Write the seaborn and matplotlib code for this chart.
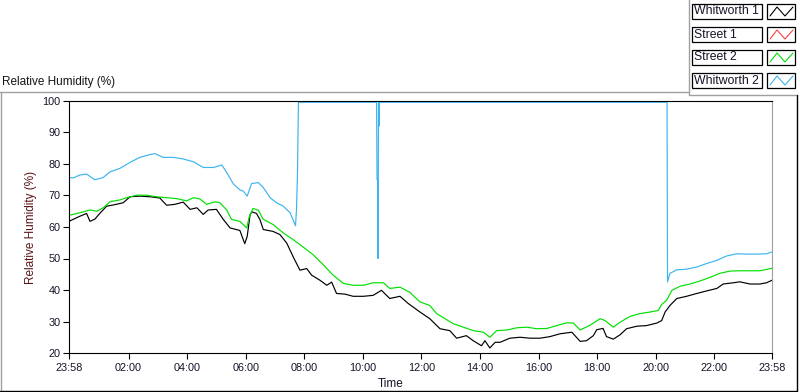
import datetime as dt

import matplotlib.dates as mdates
import matplotlib.pyplot as plt
import pandas as pd
import seaborn as sns
from matplotlib.lines import Line2D
from matplotlib.patches import Rectangle

# ----------------------
# Data (clock time, relative humidity %)
# ----------------------
sensors = ["Whitworth 1", "Street 1", "Street 2", "Whitworth 2"]
colors = ["#000000", "#ff4040", "#00e000", "#3cb4f0"]

w1_times = ["23:58", "00:20", "00:34", "00:41", "00:51", "01:01", "01:15", "01:29",
            "01:49", "02:03", "02:23", "02:44", "03:04", "03:18", "03:35", "03:52",
            "04:06", "04:20", "04:33", "04:43", "05:00", "05:14", "05:28", "05:48",
            "05:58", "06:03", "06:09", "06:13", "06:22", "06:29", "06:36", "06:56",
            "07:10", "07:24", "07:37", "07:51", "08:05", "08:15", "08:32", "08:46",
            "08:56", "09:06", "09:23", "09:40", "10:01", "10:21", "10:38", "10:55",
            "11:16", "11:33", "11:57", "12:17", "12:38", "12:58", "13:12", "13:32",
            "13:46", "14:03", "14:10", "14:20", "14:31", "14:41", "15:01", "15:22",
            "15:42", "16:03", "16:23", "16:44", "17:08", "17:25", "17:38", "17:52",
            "17:59", "18:12", "18:19", "18:33", "18:47", "19:00", "19:21", "19:41",
            "20:02", "20:12", "20:19", "20:29", "20:43", "21:03", "21:24", "21:44",
            "22:05", "22:18", "22:39", "22:52", "23:13", "23:33", "23:47", "23:58"]
w1_rh = [61.8, 63.4, 64.3, 61.8, 62.5, 64.3, 66.6, 67.0,
         67.7, 69.6, 69.8, 69.6, 69.2, 66.9, 67.2, 67.9,
         65.6, 66.1, 64.0, 65.4, 65.6, 62.4, 59.7, 58.9,
         54.7, 57.0, 64.0, 64.8, 64.3, 62.4, 59.2, 58.6,
         57.6, 54.9, 50.6, 46.3, 46.8, 44.7, 43.1, 41.5,
         42.5, 38.9, 38.7, 38.0, 38.0, 38.3, 39.9, 37.3,
         38.0, 35.7, 33.0, 30.9, 27.7, 27.1, 24.7, 25.5,
         23.9, 22.3, 23.9, 21.6, 23.4, 23.4, 24.7, 25.0,
         24.7, 24.7, 25.2, 26.1, 26.6, 23.7, 23.9, 25.5,
         27.4, 27.8, 25.2, 24.4, 25.8, 27.7, 28.5, 28.7,
         29.5, 30.3, 33.0, 35.1, 37.3, 38.0, 38.9, 39.7,
         40.5, 41.9, 42.3, 42.6, 41.9, 41.9, 42.3, 43.1]

# Street 1 has no visible trace on the chart
s1_times = []
s1_rh = []

s2_times = ["23:58", "00:20", "00:41", "00:55", "01:08", "01:22", "01:42", "01:56",
            "02:17", "02:37", "02:58", "03:18", "03:39", "03:59", "04:13", "04:26",
            "04:40", "04:57", "05:07", "05:21", "05:31", "05:48", "06:02", "06:07",
            "06:15", "06:26", "06:36", "06:56", "07:17", "07:37", "07:58", "08:18",
            "08:39", "08:59", "09:20", "09:40", "10:01", "10:21", "10:42", "10:55",
            "11:16", "11:36", "11:57", "12:17", "12:31", "12:45", "13:05", "13:26",
            "13:46", "14:07", "14:20", "14:34", "14:55", "15:15", "15:36", "15:56",
            "16:17", "16:37", "16:58", "17:11", "17:25", "17:45", "18:06", "18:16",
            "18:33", "18:47", "19:07", "19:27", "19:48", "20:05", "20:12", "20:22",
            "20:33", "20:50", "21:10", "21:31", "21:51", "22:11", "22:32", "22:52",
            "23:13", "23:33", "23:58"]
s2_rh = [63.7, 64.5, 65.4, 65.0, 66.1, 68.0, 68.6, 69.3,
         70.1, 70.1, 69.6, 69.3, 69.0, 68.3, 69.3, 68.9,
         67.2, 68.0, 67.7, 65.4, 62.4, 61.8, 59.7, 63.1,
         65.9, 65.3, 62.4, 60.8, 58.1, 56.0, 53.6, 51.2,
         48.0, 44.7, 42.1, 41.5, 41.5, 42.3, 42.3, 40.5,
         40.9, 39.3, 36.2, 35.1, 32.5, 31.2, 29.3, 28.2,
         27.1, 26.6, 25.0, 27.1, 27.3, 28.0, 28.2, 27.7,
         27.8, 28.7, 29.6, 29.5, 27.3, 28.8, 30.9, 30.3,
         28.2, 29.8, 31.6, 32.5, 33.0, 33.5, 35.4, 36.7,
         39.9, 41.2, 41.9, 42.9, 44.0, 45.3, 46.0, 46.1,
         46.1, 46.1, 46.9]

w2_times = ["23:58", "00:07", "00:20", "00:34", "00:51", "01:08", "01:22", "01:42",
            "02:03", "02:23", "02:44", "02:54", "03:11", "03:32", "03:52", "04:13",
            "04:33", "04:54", "05:11", "05:21", "05:35", "05:48", "05:55", "06:03",
            "06:12", "06:26", "06:36", "06:50", "07:03", "07:17", "07:31", "07:42",
            "07:44", "07:46", "07:48", "10:28", "10:29", "10:30", "10:31", "10:32",
            "10:33", "10:34", "20:23", "20:24", "20:29", "20:33", "20:43", "21:03",
            "21:24", "21:44", "22:05", "22:25", "22:46", "23:06", "23:27", "23:47",
            "23:58"]
w2_rh = [75.7, 75.6, 76.5, 76.8, 75.0, 75.7, 77.5, 78.6,
         80.5, 82.1, 83.0, 83.3, 82.1, 82.1, 81.6, 80.7,
         78.9, 78.9, 79.7, 77.3, 73.6, 71.8, 71.4, 69.8,
         73.8, 74.1, 72.5, 69.3, 67.7, 66.6, 64.5, 60.4,
         65.6, 76.8, 99.6, 99.6, 75.0, 75.0, 50.0, 99.6,
         92.0, 99.6, 99.6, 42.6, 45.3, 45.6, 46.4, 46.6,
         47.3, 48.4, 49.4, 50.8, 51.5, 51.4, 51.4, 51.5,
         52.1]

y_ticks = [20, 30, 40, 50, 60, 70, 80, 90, 100]


def to_datetimes(clock_list):
    # the chart runs from 23:58 on one day to 23:58 on the next
    out = []
    day = dt.date(2000, 1, 1)
    prev = None
    for s in clock_list:
        t = dt.datetime.strptime(s, "%H:%M").time()
        if prev is not None and t < prev:
            day = day + dt.timedelta(days=1)
        out.append(dt.datetime.combine(day, t))
        prev = t
    return out


frames = []
for name, times, rh in [("Whitworth 1", w1_times, w1_rh),
                        ("Street 1", s1_times, s1_rh),
                        ("Street 2", s2_times, s2_rh),
                        ("Whitworth 2", w2_times, w2_rh)]:
    if times:
        frames.append(pd.DataFrame({"time": to_datetimes(times), "rh": rh, "sensor": name}))
df = pd.concat(frames, ignore_index=True)

t_start = dt.datetime(2000, 1, 1, 23, 58)
t_end = dt.datetime(2000, 1, 2, 23, 58)

# ----------------------
# Plot
# ----------------------
sns.set_style("white")
plt.rcParams["font.family"] = ["Liberation Sans", "DejaVu Sans"]

W, H = 800, 392
fig = plt.figure(figsize=(W / 100, H / 100), dpi=100)


def px(x):
    return x / W


def py(y):
    return 1 - y / H


ax = fig.add_axes([px(69), py(353), px(772) - px(69), py(101) - py(353)])

sns.lineplot(data=df, x="time", y="rh", hue="sensor", hue_order=sensors,
             palette=dict(zip(sensors, colors)), estimator=None, sort=False,
             linewidth=0.85, legend=False, ax=ax)

ax.set_xlim(t_start, t_end)
ax.set_ylim(20, 100)
ax.set_yticks(y_ticks)

# x ticks: ends at 23:58, majors every 2 hours, minors every 120/9 minutes
majors = [t_start] + [dt.datetime(2000, 1, 2, h) for h in range(2, 24, 2)] + [t_end]
ax.set_xticks(majors)
ax.xaxis.set_major_formatter(mdates.DateFormatter("%H:%M"))
minors = []
base = dt.datetime(2000, 1, 2, 0, 0)
for k in range(-1, 9 * 12 + 1):
    if k % 9 == 0:
        continue
    t = base + dt.timedelta(minutes=k * 120 / 9)
    if t_start <= t <= t_end:
        minors.append(t)
ax.set_xticks(minors, minor=True)

ax.tick_params(axis="both", which="major", direction="out", length=4.5, width=0.8,
               color="black", labelsize=7.8, labelcolor="#141428", pad=1.5)
ax.tick_params(axis="x", which="minor", direction="out", length=2.5, width=0.8,
               color="black")
ax.tick_params(axis="x", which="major", pad=2.5, bottom=True)
ax.tick_params(axis="y", left=True)

for side in ["left", "bottom", "top"]:
    ax.spines[side].set_color("black")
    ax.spines[side].set_linewidth(0.8)
ax.spines["right"].set_color("#a0a0a0")
ax.spines["right"].set_linewidth(0.8)

ax.set_xlabel("")
ax.set_ylabel("Relative Humidity (%)", fontsize=8.5, color="#5a1414", labelpad=4)
fig.text(px(391), py(384), "Time", ha="center", va="center", fontsize=8.5,
         color="#141428")
fig.text(px(2), py(82), "Relative Humidity (%)", ha="left", va="center",
         fontsize=8.5, color="#141414")

# ----------------------
# Panel frame lines
# ----------------------
gray = "#a0a0a0"
frame_lines = [
    ((0, 689), (92, 92), gray),
    ((689, 689), (0, 95), gray),
    ((689, 797), (95, 95), gray),
    ((0.5, 0.5), (92, 392), gray),
    ((0, 797), (390.8, 390.8), "black"),
    ((796.8, 796.8), (95, 391), "black"),
]
for xs, ys, c in frame_lines:
    fig.add_artist(Line2D([px(x) for x in xs], [py(y) for y in ys],
                          color=c, linewidth=1.0, transform=fig.transFigure))

# ----------------------
# LabVIEW-style legend boxes
# ----------------------
legend_tops = [4, 27, 50, 73]
for name, col, top in zip(sensors, colors, legend_tops):
    h = 15
    fig.add_artist(Rectangle((px(692), py(top + h)), px(762) - px(692), py(top) - py(top + h),
                             facecolor="white", edgecolor="black", linewidth=0.9,
                             transform=fig.transFigure))
    fig.text(px(694), py(top + h / 2), name, ha="left", va="center", fontsize=8.8,
             color="#141428")
    fig.add_artist(Rectangle((px(767), py(top + h)), px(795) - px(767), py(top) - py(top + h),
                             facecolor="white", edgecolor="black", linewidth=0.9,
                             transform=fig.transFigure))
    zx = [770, 777, 785, 793]
    zy = [top + 12, top + 3, top + 12, top + 3]
    fig.add_artist(Line2D([px(x) for x in zx], [py(y) for y in zy], color=col,
                          linewidth=0.8, transform=fig.transFigure))

fig.savefig("out.png", dpi=100)
